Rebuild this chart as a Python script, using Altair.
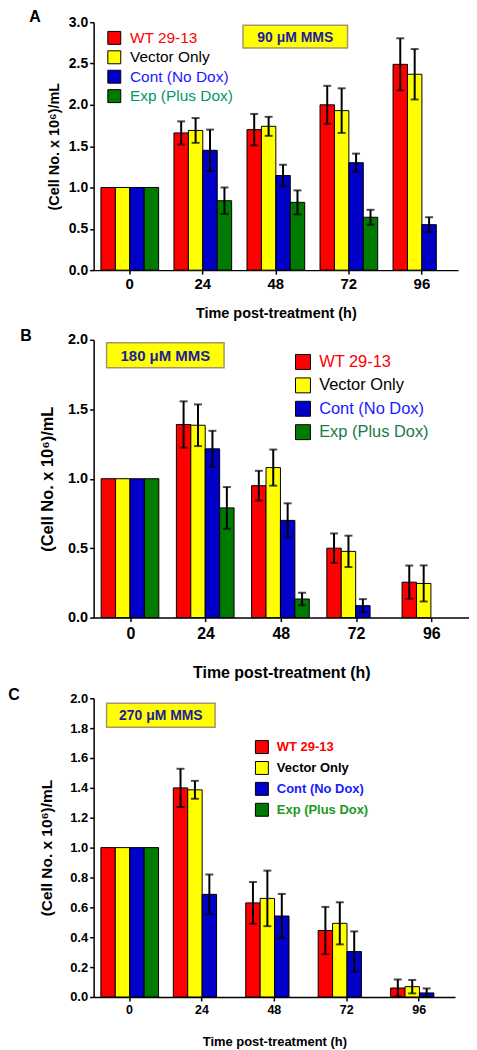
import altair as alt
import pandas as pd

times = ["0", "24", "48", "72", "96"]
groups = ["WT 29-13", "Vector Only", "Cont (No Dox)", "Exp (Plus Dox)"]
bar_colors = ["#ff0000", "#ffff00", "#0000c8", "#007a00"]

# Panel A (90 uM MMS)
A_wt = [1.0, 1.66, 1.70, 2.00, 2.49]
A_wt_err = [0, 0.14, 0.19, 0.23, 0.315]
A_vec = [1.0, 1.69, 1.74, 1.93, 2.37]
A_vec_err = [0, 0.15, 0.115, 0.27, 0.305]
A_cont = [1.0, 1.45, 1.145, 1.30, 0.55]
A_cont_err = [0, 0.25, 0.13, 0.11, 0.09]
A_exp = [1.0, 0.84, 0.82, 0.64, None]
A_exp_err = [0, 0.16, 0.145, 0.09, None]

# Panel B (180 uM MMS)
B_wt = [1.0, 1.39, 0.95, 0.50, 0.255]
B_wt_err = [0, 0.167, 0.107, 0.106, 0.12]
B_vec = [1.0, 1.385, 1.08, 0.477, 0.246]
B_vec_err = [0, 0.15, 0.13, 0.113, 0.13]
B_cont = [1.0, 1.215, 0.70, 0.086, None]
B_cont_err = [0, 0.13, 0.123, 0.047, None]
B_exp = [1.0, 0.79, 0.134, None, None]
B_exp_err = [0, 0.15, 0.045, None, None]

# Panel C (270 uM MMS)
C_wt = [1.0, 1.40, 0.63, 0.445, 0.06]
C_wt_err = [0, 0.128, 0.14, 0.158, 0.057]
C_vec = [1.0, 1.387, 0.66, 0.493, 0.069]
C_vec_err = [0, 0.06, 0.186, 0.141, 0.045]
C_cont = [1.0, 0.687, 0.542, 0.304, 0.027]
C_cont_err = [0, 0.133, 0.148, 0.135, 0.03]
C_exp = [1.0, None, None, None, None]
C_exp_err = [0, None, None, None, None]

FONT = "Liberation Sans"
label_color_expr = (
    "datum.label == 'WT 29-13' ? '#ff0000' : "
    "datum.label == 'Vector Only' ? '#000000' : "
    "datum.label == 'Cont (No Dox)' ? '#1a1aff' : '{exp}'"
)


def make_df(series, errs):
    rows = []
    for g, vals, es in zip(groups, series, errs):
        for t, v, e in zip(times, vals, es):
            if v is None:
                continue
            e = e or 0
            rows.append({"time": t, "group": g, "value": v,
                         "lo": max(v - e, 0), "hi": v + e, "err": e})
    return pd.DataFrame(rows)


def panel(series, errs, letter, box_text, w, h, ymax, ystep, cfg):
    df = make_df(series, errs)
    nvals = int(round(ymax / ystep))
    yvals = [round(i * ystep, 2) for i in range(nvals + 1)]
    base = alt.Chart(df)
    xaxis = alt.Axis(title="Time post-treatment (h)", labelAngle=0,
                     labelFontSize=cfg["xlab_fs"], labelFontWeight="bold",
                     titleFontSize=cfg["xtitle_fs"], titleFontWeight="bold",
                     tickSize=4, labelPadding=cfg["xlab_pad"],
                     titlePadding=cfg["xtitle_pad"],
                     domainColor="black", tickColor="black",
                     domainWidth=1.5, tickWidth=1.5,
                     labelColor="black", titleColor="black")
    xscale = alt.Scale(paddingInner=0.21, paddingOuter=0.1)
    yaxis = alt.Axis(title="(Cell No. x 10\u2076)/mL", values=yvals,
                     format=".1f", grid=False, labelOverlap=False,
                     labelFontSize=cfg["ylab_fs"], labelFontWeight="bold",
                     titleFontSize=cfg["ytitle_fs"], titleFontWeight="bold",
                     tickSize=4, labelPadding=2,
                     titlePadding=cfg["ytitle_pad"],
                     domainColor="black", tickColor="black",
                     domainWidth=1.5, tickWidth=1.5,
                     labelColor="black", titleColor="black")
    yscale = alt.Scale(domain=[0, ymax], nice=False)
    x = alt.X("time:N", sort=times, scale=xscale, axis=xaxis)
    xo = alt.XOffset("group:N", sort=groups,
                     scale=alt.Scale(domain=groups, paddingInner=0, paddingOuter=0))
    sym = cfg["sym"]
    color = alt.Color("group:N", sort=groups,
                      scale=alt.Scale(domain=groups, range=bar_colors),
                      legend=alt.Legend(
                          orient="none", legendX=cfg["leg_x"], legendY=cfg["leg_y"],
                          title=None,
                          symbolType="square", symbolSize=sym * sym,
                          symbolStrokeColor="black", symbolStrokeWidth=1,
                          symbolOpacity=1,
                          labelFont=FONT, labelFontSize=cfg["leg_fs"],
                          labelFontWeight="bold" if cfg["leg_bold"] else "normal",
                          rowPadding=cfg["leg_row"], labelOffset=8, padding=0,
                          labelLimit=300,
                          labelColor={"expr": label_color_expr.format(exp=cfg["exp_color"])}))
    bars = base.mark_bar(stroke="black", strokeWidth=1).encode(
        x=x, xOffset=xo,
        y=alt.Y("value:Q", scale=yscale, axis=yaxis), color=color)
    eb = df[df["err"] > 0]
    ebase = alt.Chart(eb)
    rules = ebase.mark_rule(color="black", strokeWidth=2).encode(
        x=x, xOffset=xo, y=alt.Y("lo:Q", scale=yscale, axis=yaxis), y2="hi:Q")
    cap_hi = ebase.mark_tick(color="black", orient="horizontal", size=8,
                             thickness=2).encode(
        x=x, xOffset=xo, y=alt.Y("hi:Q", scale=yscale, axis=yaxis))
    cap_lo = ebase.mark_tick(color="black", orient="horizontal", size=8,
                             thickness=2).encode(
        x=x, xOffset=xo, y=alt.Y("lo:Q", scale=yscale, axis=yaxis))
    ann = alt.Chart(pd.DataFrame({"label": [box_text]}))
    bx0, bx1, by0, by1 = cfg["box"]
    rect = ann.mark_rect(fill="#ffff00", stroke="#a8946a", strokeWidth=1.5).encode(
        x=alt.value(bx0), x2=alt.value(bx1), y=alt.value(by0), y2=alt.value(by1))
    btxt = ann.mark_text(font=FONT, fontWeight="bold", fontSize=cfg["box_fs"],
                         color="#1c1ca0", align="center", baseline="middle").encode(
        x=alt.value((bx0 + bx1) / 2), y=alt.value((by0 + by1) / 2 + 1),
        text="label:N")
    lx, ly = cfg["letter"]
    let = alt.Chart(pd.DataFrame({"l": [letter]})).mark_text(
        font=FONT, fontWeight="bold", fontSize=16, color="black",
        align="center", baseline="alphabetic").encode(
        x=alt.value(lx), y=alt.value(ly), text="l:N")
    return alt.layer(bars, rules, cap_hi, cap_lo, rect, btxt, let).properties(
        width=w, height=h)


cfgA = dict(xlab_fs=15, xtitle_fs=14.5, xlab_pad=2, xtitle_pad=16,
            ylab_fs=14, ytitle_fs=14.5, ytitle_pad=7,
            leg_x=13, leg_y=8, leg_fs=15.5, leg_bold=False, leg_row=1.5, sym=13,
            exp_color="#009966", box=(150, 255, 3, 26), box_fs=14, letter=(-59, 0))
cfgB = dict(xlab_fs=16, xtitle_fs=16, xlab_pad=4, xtitle_pad=23,
            ylab_fs=14.5, ytitle_fs=16.5, ytitle_pad=12,
            leg_x=202, leg_y=14, leg_fs=16.5, leg_bold=False, leg_row=3.5, sym=15,
            exp_color="#1a7a4a", box=(13, 131, 3, 28), box_fs=15, letter=(-68, 1))
cfgC = dict(xlab_fs=12.5, xtitle_fs=13, xlab_pad=3, xtitle_pad=19,
            ylab_fs=13, ytitle_fs=15.5, ytitle_pad=15,
            leg_x=162, leg_y=42, leg_fs=13, leg_bold=True, leg_row=3, sym=13,
            exp_color="#1a9a1a", box=(13, 122, 5, 29), box_fs=14, letter=(-80, 2))

pA = panel([A_wt, A_vec, A_cont, A_exp], [A_wt_err, A_vec_err, A_cont_err, A_exp_err],
           "A", "90 \u03bcM MMS", 366, 249, 3.0, 0.5, cfgA)
pB = panel([B_wt, B_vec, B_cont, B_exp], [B_wt_err, B_vec_err, B_cont_err, B_exp_err],
           "B", "180 \u03bcM MMS", 377, 279, 2.0, 0.5, cfgB)
pC = panel([C_wt, C_vec, C_cont, C_exp], [C_wt_err, C_vec_err, C_cont_err, C_exp_err],
           "C", "270 \u03bcM MMS", 363, 300, 2.0, 0.2, cfgC)

chart = alt.vconcat(pA, pB, pC, spacing=7).resolve_scale(
    color="independent"
).resolve_legend(color="independent").properties(
    padding={"left": 0, "top": -1, "right": 0, "bottom": 0}
).configure(font=FONT).configure_view(stroke=None)

chart.save("out.html", embed_options={"renderer": "svg", "actions": False})
